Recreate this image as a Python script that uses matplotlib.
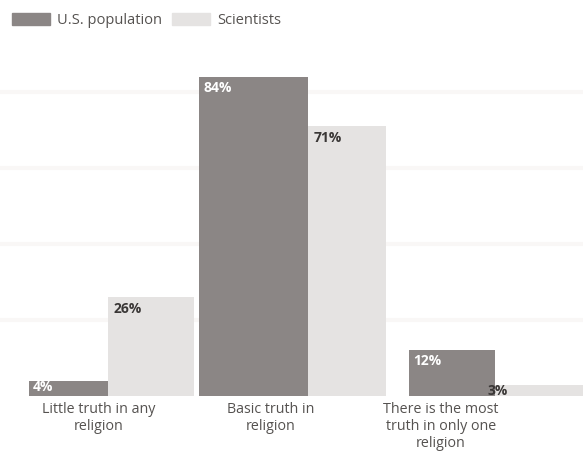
import matplotlib.pyplot as plt
from matplotlib.patches import Patch

# data
categories = ['Little truth in any\nreligion', 'Basic truth in\nreligion',
              'There is the most\ntruth in only one\nreligion']
us_population = [4, 84, 12]
scientists = [26, 71, 3]
series_names = ['U.S. population', 'Scientists']

# layout (x in pixel-like units across the 583 px figure)
split_x = [108, 308, 495]      # edge between the two bars of a group
dark_w = [79, 109, 86]
light_w = [86, 78, 88]
label_x = [99, 271, 441]

dark = '#8b8685'
light = '#e5e3e2'
text_col = '#555250'

plt.rcParams['font.family'] = ['Open Sans', 'DejaVu Sans']

fig = plt.figure(figsize=(5.83, 4.57), dpi=100)
ax = fig.add_axes([0, 61 / 457, 1, 336 / 457])
ax.set_xlim(0, 583)
ax.set_ylim(0, 336 / 3.8)

for y in [20, 40, 60, 80]:
    ax.axhline(y, color='#f9f7f6', lw=3, zorder=0)

ax.bar([s - w for s, w in zip(split_x, dark_w)], us_population, width=dark_w,
       align='edge', color=dark, zorder=2)
ax.bar(split_x, scientists, width=light_w, align='edge', color=light, zorder=2)

for i in range(3):
    left = split_x[i] - dark_w[i]
    v = us_population[i]
    ax.annotate(f'{v}%', (left, v), xytext=(4, -4 if v > 6 else 1),
                textcoords='offset pixels', ha='left', va='top',
                fontsize=10, fontweight='bold', color='white', zorder=3)
    v = scientists[i]
    dx = 6 if v > 6 else -7
    ax.annotate(f'{v}%', (split_x[i], v), xytext=(dx, -5 if v > 6 else 1),
                textcoords='offset pixels', ha='left', va='top',
                fontsize=10, fontweight='bold', color='#3a3736', zorder=3)

ax.set_xticks(label_x, categories)
ax.tick_params(axis='x', length=0, pad=4, labelsize=10.3, labelcolor=text_col)
ax.set_yticks([])
for s in ax.spines.values():
    s.set_visible(False)

handles = [Patch(color=dark), Patch(color=light)]
fig.legend(handles, series_names, loc='upper left', bbox_to_anchor=(0.02, 0.972),
           ncol=2, frameon=False, fontsize=10.5, labelcolor=text_col,
           handlelength=2.6, handleheight=0.9, handletextpad=0.5,
           columnspacing=0.7, borderaxespad=0, borderpad=0)

fig.savefig('out.png', dpi=100)
